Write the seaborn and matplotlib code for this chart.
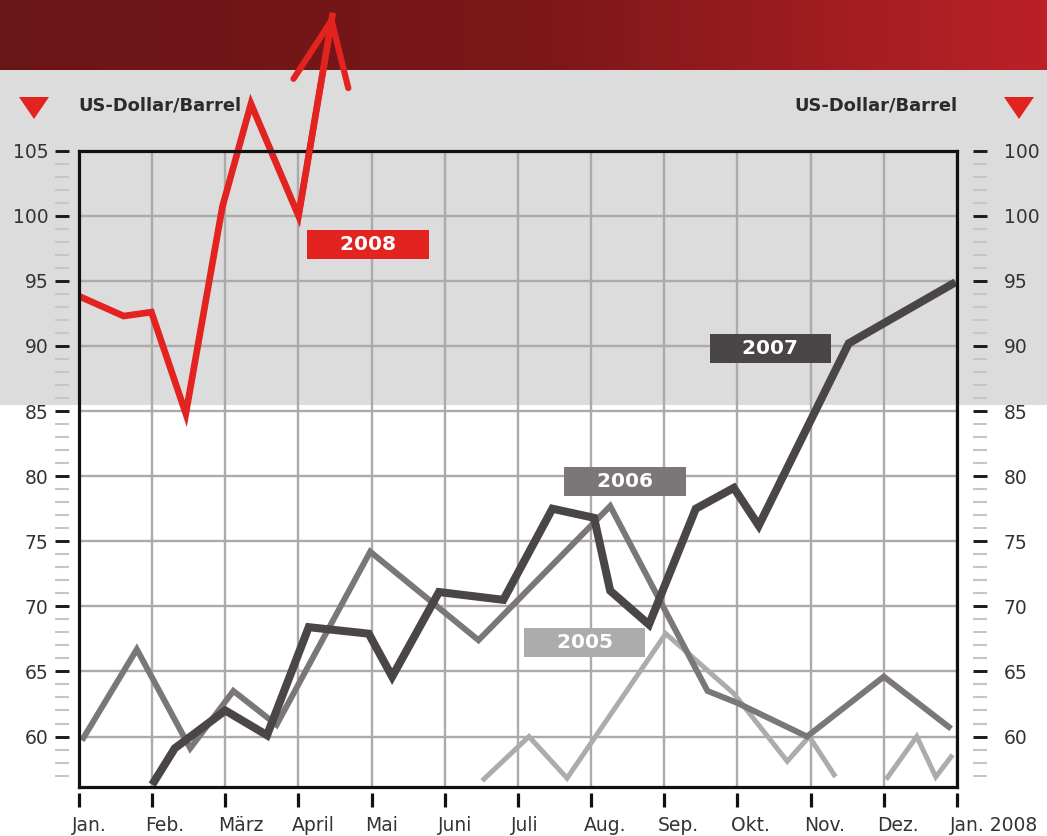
import numpy as np
import pandas as pd
import matplotlib
matplotlib.use("Agg")
import matplotlib.pyplot as plt
import seaborn as sns
from matplotlib.colors import LinearSegmentedColormap
from matplotlib.patches import Rectangle, Polygon
from matplotlib.ticker import MultipleLocator
from matplotlib.transforms import ScaledTranslation

# --- data (US-Dollar/Barrel, x = months from January) ---
months = ["Jan.", "Feb.", "März", "April", "Mai", "Juni", "Juli", "Aug.",
          "Sep.", "Okt.", "Nov.", "Dez.", "Jan. 2008"]
left_ticks = [60, 65, 70, 75, 80, 85, 90, 95, 100, 105]
left_labels = ["60", "65", "70", "75", "80", "85", "90", "95", "100", "105"]
right_labels = ["60", "65", "70", "75", "80", "85", "90", "95", "100", "100"]

x_2005 = [5.51, 6.15, 6.67, 8.02, 8.95, 9.68, 9.98, 10.34, 11.03, 11.45, 11.71, 11.94]
y_2005 = [56.6, 60.0, 56.8, 67.9, 63.3, 58.1, 60.0, 56.9, 56.7, 60.0, 56.9, 58.6]
seg_2005 = [0, 0, 0, 0, 0, 0, 0, 0, 1, 1, 1, 1]

x_2006 = [0.04, 0.79, 1.52, 2.11, 2.70, 3.98, 5.46, 7.26, 8.59, 8.99, 9.95, 11.0, 11.92]
y_2006 = [59.7, 66.7, 59.1, 63.5, 60.9, 74.2, 67.4, 77.7, 63.5, 62.6, 60.0, 64.6, 60.6]

x_2007 = [1.0, 1.31, 2.0, 2.57, 3.14, 3.96, 4.28, 4.92, 5.80, 6.47, 7.04, 7.26,
          7.79, 8.43, 8.95, 9.29, 10.52, 11.98]
y_2007 = [56.3, 59.1, 62.0, 60.1, 68.4, 67.9, 64.6, 71.1, 70.5, 77.5, 76.8, 71.2,
          68.6, 77.5, 79.1, 76.2, 90.2, 94.9]

x_2008 = [0.01, 0.61, 0.99, 1.46, 1.96, 2.35, 3.0, 3.47]
y_2008 = [93.8, 92.3, 92.6, 84.8, 100.7, 108.6, 100.0, 115.6]

series = {
    "2005": (x_2005, y_2005, seg_2005),
    "2006": (x_2006, y_2006, [0] * len(x_2006)),
    "2007": (x_2007, y_2007, [0] * len(x_2007)),
    "2008": (x_2008, y_2008, [0] * len(x_2008)),
}
colors = {"2005": "#acacac", "2006": "#7b7778", "2007": "#4a4547", "2008": "#e2231f"}
widths = {"2005": 3.6, "2006": 4.3, "2007": 5.8, "2008": 4.8}
# label box positions (month, value)
label_pos = {"2005": (6.91, 67.2), "2006": (7.46, 79.6), "2007": (9.45, 89.8), "2008": (3.95, 97.8)}

frames = []
for year, (xs, ys, seg) in series.items():
    frames.append(pd.DataFrame({"month": xs, "price": ys, "seg": seg, "year": year}))
df = pd.concat(frames, ignore_index=True)

sns.set_style("white")
plt.rcParams["font.family"] = ["DejaVu Sans"]

fig = plt.figure(figsize=(10.47, 8.36), dpi=100)
fig.patch.set_facecolor("white")

# background: red header band, grey upper band
bg = fig.add_axes([0, 0, 1, 1], zorder=-1)
bg.set_xlim(0, 1047)
bg.set_ylim(836, 0)
bg.axis("off")
cmap = LinearSegmentedColormap.from_list("hdr", ["#6a1517", "#7a1719", "#bb2127"])
bg.imshow(np.linspace(0, 1, 256)[None, :], extent=[0, 1047, 70, 0], aspect="auto", cmap=cmap)
bg.add_patch(Rectangle((0, 70), 1047, 335, color="#dcdcdc", lw=0))
bg.add_patch(Polygon([[19, 97], [49, 97], [34, 119]], closed=True, color="#e2231f", lw=0))
bg.add_patch(Polygon([[1004, 97], [1034, 97], [1019, 119]], closed=True, color="#e2231f", lw=0))
bg.text(78, 110, "US-Dollar/Barrel", fontsize=12.9, fontweight="bold", color="#2b2b2b",
        ha="left", va="baseline")
bg.text(958, 110, "US-Dollar/Barrel", fontsize=12.9, fontweight="bold", color="#2b2b2b",
        ha="right", va="baseline")

# main chart
ax = fig.add_axes([0.07545, 0.05825, 0.83859, 0.76149])
ax.set_facecolor("none")
for year in series:
    sub = df[df["year"] == year]
    sns.lineplot(data=sub, x="month", y="price", units="seg", estimator=None, sort=False,
                 color=colors[year], lw=widths[year], ax=ax,
                 solid_joinstyle="miter", solid_capstyle="butt")
    if year == "2008":
        ax.lines[-1].set_clip_on(False)

# arrow head on the 2008 line
ax.annotate("", xy=(x_2008[-1], y_2008[-1]), xytext=(x_2008[-2], y_2008[-2]),
            annotation_clip=False,
            arrowprops=dict(arrowstyle="->,head_length=4.6,head_width=2.0", mutation_scale=10,
                            color=colors["2008"], lw=4.5, shrinkA=0, shrinkB=0,
                            capstyle="round", joinstyle="miter"))

# year labels
for year, (lx, ly) in label_pos.items():
    ax.text(lx, ly, "    " + year + "    ", ha="center", va="center", fontsize=14.5,
            fontweight="bold", color="white",
            bbox=dict(boxstyle="square,pad=0.24", fc=colors[year], ec="none"))

ax.set_xlim(0, 12)
ax.set_ylim(56.1, 105)
ax.set_xticks(range(13))
ax.set_yticks(left_ticks)
ax.grid(True, color="#acaaaa", lw=1.7)
ax.set_axisbelow(True)
ax.tick_params(length=0, labelbottom=False, labelleft=False)
ax.set_xlabel("")
ax.set_ylabel("")
for side in ["left", "right", "top", "bottom"]:
    ax.spines[side].set_visible(True)
    ax.spines[side].set_color("#111111")
    ax.spines[side].set_linewidth(2.3)

# detached tick scales
sec_x = ax.secondary_xaxis(-6 / 636.6)
sec_x.set_xticks(range(13))
sec_x.set_xticklabels(months)
sec_x.tick_params(direction="out", length=10, width=2.3, color="#111111", pad=6,
                  labelsize=13.5, labelcolor="#333333")
sec_x.spines["bottom"].set_visible(False)
shift = ScaledTranslation(-5 / 72, 0, fig.dpi_scale_trans)
for lab in sec_x.get_xticklabels():
    lab.set_ha("left")
    lab.set_transform(lab.get_transform() + shift)

sec_l = ax.secondary_yaxis(-10 / 878)
sec_r = ax.secondary_yaxis(1 + 16 / 878)
for sec, labels, pad in [(sec_l, left_labels, 5), (sec_r, right_labels, 12)]:
    sec.set_yticks(left_ticks)
    sec.set_yticklabels(labels)
    sec.yaxis.set_minor_locator(MultipleLocator(1))
    sec.tick_params(which="major", direction="out", length=10, width=2.1, color="#1a1a1a",
                    pad=pad, labelsize=13.5, labelcolor="#333333")
    sec.tick_params(which="minor", direction="out", length=10, width=1.5, color="#c6c6c6")
    for s in sec.spines.values():
        s.set_visible(False)

fig.savefig("out.png", dpi=100)
